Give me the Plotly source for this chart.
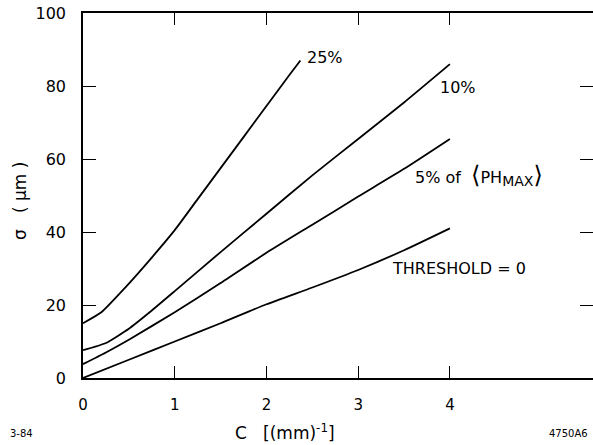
import plotly.graph_objects as go

# Data
c_thr = [0, 0.5, 1, 1.5, 2, 2.5, 3, 3.5, 4]
s_thr = [0, 5, 10, 15, 20.2, 24.8, 29.6, 35, 41]

c_5 = [0, 0.25, 0.5, 1, 1.5, 2, 2.5, 3, 3.5, 4]
s_5 = [3.8, 7, 10.5, 18, 26, 34.3, 42, 49.7, 57.3, 65.5]

c_10 = [0, 0.25, 0.5, 0.75, 1, 1.5, 2, 2.5, 3, 3.5, 4]
s_10 = [7.6, 9.6, 13.5, 18.5, 23.8, 34.5, 45, 55.5, 65.5, 75.5, 86]

c_25 = [0, 0.2, 0.45, 0.75, 1, 1.25, 1.5, 1.75, 2, 2.25, 2.37]
s_25 = [15, 18, 24.5, 33, 40.5, 49, 57.5, 66, 74.5, 83, 87]

x_ticks = [0, 1, 2, 3, 4]
x_ticklabels = ["0", "1", "2", "3", "4"]
y_ticks = [0, 20, 40, 60, 80, 100]

labels = ["THRESHOLD = 0",
          "5% of  <span style='font-size:24px'>⟨</span>PH<sub><span style='font-size:14px'>MAX</span></sub><span style='font-size:24px'>⟩</span>",
          "10%", "25%"]
label_pos = [(3.35, 30.1), (3.6, 55.6), (3.87, 79.7), (2.42, 87.9)]

FONT = "DejaVu Sans"

fig = go.Figure()
for cx, sy in [(c_thr, s_thr), (c_5, s_5), (c_10, s_10), (c_25, s_25)]:
    fig.add_trace(go.Scatter(x=cx, y=sy, mode="lines",
                             line=dict(color="black", width=1.8, shape="spline", smoothing=0.5),
                             showlegend=False, hoverinfo="skip"))

# right-side ticks via overlay axis
fig.add_trace(go.Scatter(x=[0], y=[0], yaxis="y2", mode="markers", marker=dict(opacity=0),
                         showlegend=False, hoverinfo="skip"))

fig.update_layout(
    width=593, height=445,
    margin=dict(l=83, r=0, t=13, b=67),
    paper_bgcolor="white", plot_bgcolor="white",
    font=dict(family=FONT, color="black", size=15),
    xaxis=dict(range=[0, 5.56], tickvals=x_ticks, ticktext=x_ticklabels, ticks="inside", ticklen=12,
               tickwidth=1.2, tickcolor="black", showline=True, linecolor="black", linewidth=1.5,
               mirror="ticks", showgrid=False, zeroline=False, ticklabelstandoff=12,
               tickfont=dict(size=15, family=FONT)),
    yaxis=dict(range=[0, 100], tickvals=y_ticks, ticks="inside", ticklen=13, tickwidth=1.2,
               tickcolor="black", showline=True, linecolor="black", linewidth=1.5, mirror=False,
               showgrid=False, zeroline=False, ticklabelstandoff=12, tickfont=dict(size=16, family=FONT)),
    yaxis2=dict(range=[0, 100], overlaying="y", side="right", tickvals=[20, 40, 60, 80], ticks="inside",
                ticklen=13, tickwidth=1.2, tickcolor="black", showline=False, showgrid=False,
                zeroline=False, showticklabels=False),
)

for txt, (lx, ly) in zip(labels, label_pos):
    fig.add_annotation(x=lx, y=ly, xref="x", yref="y", text=txt, showarrow=False, xanchor="left",
                       yanchor="middle", font=dict(size=16, family=FONT))

pw, ph = 593 - 83, 445 - 13 - 67


def px2paper(px, py):
    return (px - 83) / pw, (445 - 67 - py) / ph


for txt, px, py, size, angle in [
    ("C   [(mm)<sup>-1</sup>]", 285, 432, 17, 0),
    ("σ   ( μm )", 20, 201, 17, -90),
    ("3-84", 21, 433, 10, 0),
    ("4750A6", 568, 433, 10, 0),
]:
    ax, ay = px2paper(px, py)
    fig.add_annotation(x=ax, y=ay, xref="paper", yref="paper", text=txt, showarrow=False,
                       xanchor="center", yanchor="middle",
                       textangle=angle, font=dict(size=size, family=FONT))

fig.write_html("out.html")
